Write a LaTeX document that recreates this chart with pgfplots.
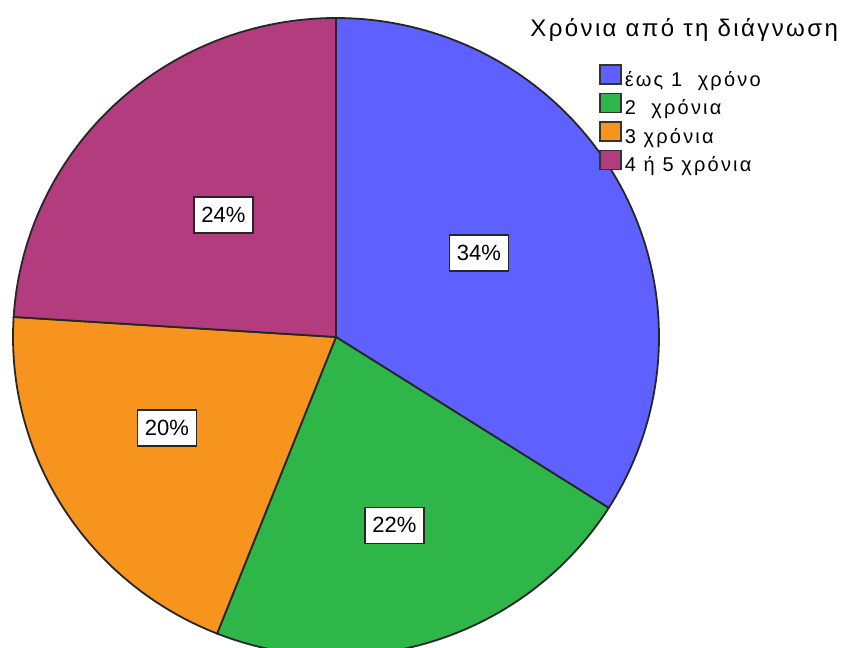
\documentclass[border=0pt]{standalone}
\usepackage{pgfplots}
\pgfplotsset{compat=1.18}
\usepackage{fontspec}
\setmainfont{Liberation Sans}
\newfontfamily\titfont[LetterSpace=10]{Liberation Sans}
\newfontfamily\legfont[LetterSpace=11]{Liberation Sans}
\definecolor{cblue}{RGB}{94,96,255}
\definecolor{cgreen}{RGB}{46,183,72}
\definecolor{corange}{RGB}{247,148,30}
\definecolor{cpurple}{RGB}{178,60,125}
% percentages of the four slices
\def\pA{34}\def\pB{22}\def\pC{20}\def\pD{24}
\def\cx{336}\def\cy{311}\def\rx{323}\def\ry{319}
\pgfmathsetmacro\aA{90}
\pgfmathsetmacro\aB{\aA-3.6*\pA}
\pgfmathsetmacro\aC{\aB-3.6*\pB}
\pgfmathsetmacro\aD{\aC-3.6*\pC}
\pgfmathsetmacro\aE{\aD-3.6*\pD}
\tikzset{lbl/.style={fill=white, draw=black!85, line width=0.9pt, font=\fontsize{11}{13}\selectfont,
    text height=8pt, text depth=0.5pt, inner xsep=3.75pt, inner ysep=4.75pt}}
\begin{document}
\begin{tikzpicture}
\begin{axis}[
  scale only axis, width=421.5pt, height=324pt,
  xmin=0, xmax=843, ymin=0, ymax=648,
  axis line style={draw=none}, xtick=\empty, ytick=\empty,
  clip=true,
  legend cell align=left,
  legend image code/.code={\draw[#1, draw=black!80, line width=0.7pt] (0pt,-1pt) rectangle (10.5pt,8.5pt);},
  legend style={at={(axis cs:599,584)}, anchor=north west, draw=none, fill=none, inner sep=0pt,
    font=\legfont\fontsize{10}{12}\selectfont, row sep=-0.4pt,
    nodes={inner sep=1pt, text height=7pt, text depth=2.5pt},
    /tikz/every odd column/.append style={column sep=0.5pt}},
  slice/.style={draw=black!85, line width=0.9pt, samples=100, variable=\t},
]
\addplot[slice, fill=cblue, domain=\aB:\aA] ({\cx+\rx*cos(t)},{\cy+\ry*sin(t)}) -- (axis cs:\cx,\cy) -- cycle;
\addlegendentry{έως 1\ \ χρόνο}
\addplot[slice, fill=cgreen, domain=\aC:\aB] ({\cx+\rx*cos(t)},{\cy+\ry*sin(t)}) -- (axis cs:\cx,\cy) -- cycle;
\addlegendentry{2\ \ χρόνια}
\addplot[slice, fill=corange, domain=\aD:\aC] ({\cx+\rx*cos(t)},{\cy+\ry*sin(t)}) -- (axis cs:\cx,\cy) -- cycle;
\addlegendentry{3 χρόνια}
\addplot[slice, fill=cpurple, domain=\aE:\aD] ({\cx+\rx*cos(t)},{\cy+\ry*sin(t)}) -- (axis cs:\cx,\cy) -- cycle;
\addlegendentry{4 ή 5 χρόνια}
\node[lbl] at (axis cs:479,395) {34\%};
\node[lbl] at (axis cs:394.5,122.5) {22\%};
\node[lbl] at (axis cs:167,220) {20\%};
\node[lbl] at (axis cs:223.5,433) {24\%};
\node[anchor=base west, inner sep=0pt, font=\titfont\fontsize{12}{14}\selectfont] at (axis cs:530,611) {Χρόνια από τη διάγνωση};
\end{axis}
\end{tikzpicture}
\end{document}
